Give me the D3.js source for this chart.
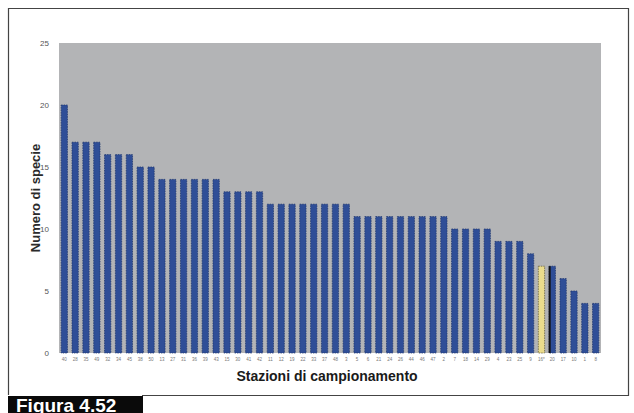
<!DOCTYPE html>
<html><head><meta charset="utf-8">
<script src="https://cdn.jsdelivr.net/npm/d3@7"></script>
<style>html,body{margin:0;padding:0;background:#fff;}svg{display:block;}</style>
</head><body>
<svg id="c" width="634" height="413"></svg>
<script>
const stations = ["40","28","35","49","32","34","45","38","50","13","27","31","36","39",
  "43","15","30","41","42","11","12","19","22","33","37","48",
  "3","5","6","21","24","26","44","46","47","2","7","18","14","29",
  "4","23","25","9","16*","20","17","10","1","8"];
const species = [20,17,17,17,16,16,16,15,15,14,14,14,14,14,14,13,13,13,13,
  12,12,12,12,12,12,12,12,11,11,11,11,11,11,11,11,11,10,10,10,10,9,9,9,8,7,7,6,5,4,4];
const yTicks = [0,5,10,15,20,25];
const highlightYellow = "16*";
const highlightDark = "20";

const svg = d3.select("#c");
const m = {left:59, right:601, top:43, bottom:353};
const x = d3.scaleBand().domain(stations).range([m.left, m.right]).paddingInner(0.42).paddingOuter(0.2);
const y = d3.scaleLinear().domain([0,25]).range([m.bottom, m.top]);

// frame
svg.append("path").attr("d","M8.5,395 L8.5,8.5 L628.5,8.5 L628.5,395.5 L142,395.5")
  .attr("fill","none").attr("stroke","#444").attr("stroke-width",1.2);

// plot background
svg.append("rect").attr("x",m.left).attr("y",m.top).attr("width",m.right-m.left).attr("height",m.bottom-m.top)
  .attr("fill","#b3b4b6");

// bars
svg.append("g").selectAll("rect").data(stations).join("rect")
  .attr("x",d=>x(d)).attr("width",x.bandwidth())
  .attr("y",(d,i)=>y(species[i])).attr("height",(d,i)=>y(0)-y(species[i]))
  .attr("fill",d=>d===highlightYellow?"#ebdc8c":"#2f4e97")
  .attr("stroke",d=>d===highlightYellow?"#6a6340":"#233a70")
  .attr("stroke-width",0.8)
  .attr("stroke-dasharray","1.5,1");

// dark edge on highlighted bar
const di = stations.indexOf(highlightDark);
svg.append("rect").attr("x",x(highlightDark)-0.5).attr("width",2)
  .attr("y",y(species[di])).attr("height",y(0)-y(species[di])).attr("fill","#111");

// y axis
const ya = svg.append("g").attr("transform",`translate(${m.left},0)`)
  .call(d3.axisLeft(y).tickValues(yTicks).tickSize(0).tickPadding(10));
ya.select(".domain").remove();
ya.selectAll("text").attr("font-family","Liberation Sans, Arial, sans-serif").attr("font-size",8).attr("fill","#555");

// x axis
const xa = svg.append("g").attr("transform",`translate(0,${m.bottom})`)
  .call(d3.axisBottom(x).tickSize(0).tickPadding(5));
xa.select(".domain").remove();
xa.selectAll("text").attr("font-family","Liberation Sans, Arial, sans-serif").attr("font-size",4.5).attr("fill","#777");

// titles
svg.append("text").attr("x",327).attr("y",381).attr("text-anchor","middle")
  .attr("font-family","Liberation Sans, Arial, sans-serif").attr("font-weight","bold").attr("font-size",14)
  .attr("fill","#1a1a1a").text("Stazioni di campionamento");
svg.append("text").attr("transform","translate(40,198) rotate(-90)").attr("text-anchor","middle")
  .attr("font-family","Liberation Sans, Arial, sans-serif").attr("font-weight","bold").attr("font-size",13)
  .attr("fill","#2a2a2a").text("Numero di specie");

// figure label
svg.append("rect").attr("x",8).attr("y",396).attr("width",135).attr("height",17).attr("fill","#0a0a0a");
svg.append("text").attr("x",16).attr("y",412).attr("font-family","Liberation Sans, Arial, sans-serif")
  .attr("font-weight","bold").attr("font-size",19).attr("fill","#fff").text("Figura 4.52");
</script>
</body></html>
